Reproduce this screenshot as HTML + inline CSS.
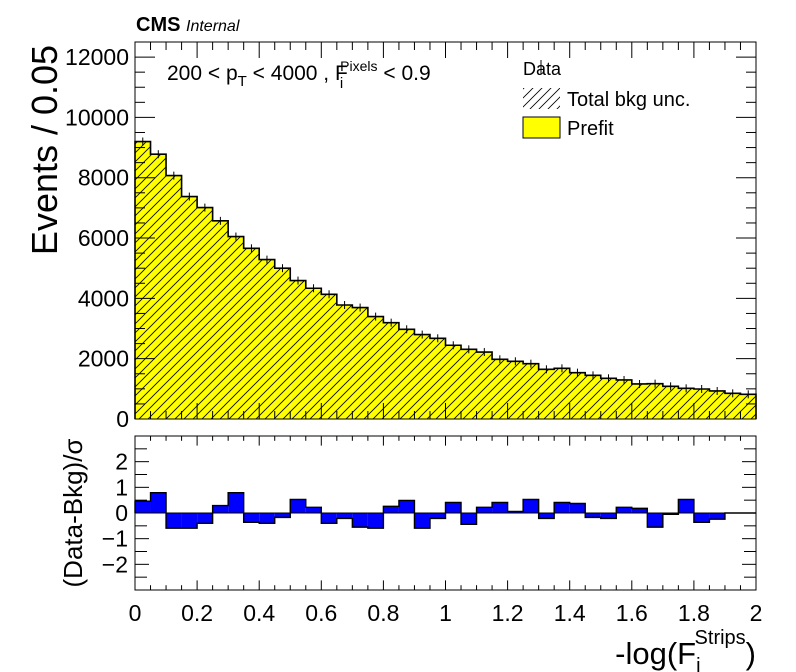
<!DOCTYPE html>
<html><head><meta charset="utf-8"><style>
body{margin:0;background:#fff;}
svg{display:block;font-family:"Liberation Sans",sans-serif;}
</style></head><body>
<svg id="c" width="796" height="672" viewBox="0 0 796 672">
<defs>
<pattern id="hatch" patternUnits="userSpaceOnUse" width="9" height="9">
<path d="M-1,10 L10,-1 M-1,1 L1,-1 M8,10 L10,8" stroke="#000" stroke-width="0.8"/>
</pattern>
</defs>
<g id="main"></g>
<g id="ratio"></g>
<text x="136" y="31" font-size="20" font-weight="bold">CMS <tspan font-size="16" font-weight="normal" font-style="italic">Internal</tspan></text>
<text x="167" y="80" font-size="21">200 &lt; p<tspan font-size="15" dy="6">T</tspan><tspan dy="-6"> &lt; 4000 , F</tspan><tspan font-size="15" dx="-8" dy="8">i</tspan><tspan font-size="14" dx="-3" dy="-17">Pixels</tspan><tspan dy="9"> &lt; 0.9</tspan></text>
<g>
<text x="523" y="75" font-size="18">Data</text>
<line x1="541" y1="60" x2="541" y2="74" stroke="#000" stroke-width="1"/>
<rect x="523" y="88" width="37" height="21" fill="url(#hatch)"/>
<text x="567" y="106" font-size="20">Total bkg unc.</text>
<rect x="523" y="117" width="37" height="21" fill="#ffff00" stroke="#000"/>
<text x="567" y="135" font-size="20">Prefit</text>
</g>
<text transform="translate(57,150) rotate(-90)" text-anchor="middle" font-size="36">Events / 0.05</text>
<text transform="translate(82,513) rotate(-90)" text-anchor="middle" font-size="26">(Data-Bkg)/σ</text>
<text x="756" y="664" text-anchor="end" font-size="31">-log(F<tspan font-size="20" dy="8">i</tspan><tspan font-size="20" dx="-6" dy="-28">Strips</tspan><tspan font-size="31" dy="20">)</tspan></text>
</svg>
<script>
const bkgValues=[9200,8780,8070,7375,7010,6570,6050,5660,5285,5000,4590,4335,4135,3780,3695,3395,3195,2975,2800,2676,2445,2310,2220,1980,1913,1835,1648,1681,1537,1448,1349,1294,1161,1172,1083,1017,995,929,851,818];
const pullValues=[0.46,0.79,-0.59,-0.59,-0.40,0.29,0.79,-0.36,-0.40,-0.17,0.53,0.22,-0.40,-0.21,-0.55,-0.59,0.26,0.49,-0.59,-0.21,0.41,-0.44,0.22,0.41,0.06,0.53,-0.21,0.41,0.37,-0.17,-0.21,0.22,0.18,-0.55,-0.05,0.53,-0.36,-0.24,0,0];
const xTicks=[0,0.2,0.4,0.6,0.8,1,1.2,1.4,1.6,1.8,2];
const yTicks=[0,2000,4000,6000,8000,10000,12000];
const rTicks=[-2,-1,0,1,2];
const NS="http://www.w3.org/2000/svg";
const L=135,R=756,T=42,B=419,RT=436,RB=590;
const xs=v=>L+(R-L)*v/2;
const ys=v=>B-(B-T)*v/12500;
const rs=v=>(RT+RB)/2-(RB-RT)*v/6;
function mk(p,tag,a){const e=document.createElementNS(NS,tag);for(const k in a)e.setAttribute(k,a[k]);p.appendChild(e);return e;}
const main=document.getElementById('main'),ratio=document.getElementById('ratio');
const w=2/bkgValues.length;
let d=`M${xs(0)},${ys(0)}`;
bkgValues.forEach((v,i)=>{
 const r=mk(main,'rect',{x:xs(i*w),y:ys(v),width:xs((i+1)*w)-xs(i*w),height:ys(0)-ys(v),fill:'#ffff00'});
 
 
 d+=` L${xs(i*w)},${ys(v)} L${xs((i+1)*w)},${ys(v)}`;
});
d+=` L${xs(2)},${ys(0)}`;
const hp=mk(main,'path',{d:d+' Z',fill:'url(#hatch)'});


const sp=mk(main,'path',{d:d,fill:'none',stroke:'#000','stroke-width':1.6});


bkgValues.forEach((v,i)=>{
 const c=xs((i+0.5)*w);
 const e=mk(main,'line',{x1:c,x2:c,y1:ys(v)-4,y2:ys(v)+4,stroke:'#000','stroke-width':1});
 
 
});
mk(main,'rect',{x:L,y:T,width:R-L,height:B-T,fill:'none',stroke:'#000','stroke-width':1});
for(let v=0;v<=2.0001;v+=0.05){const big=Math.abs(v*5-Math.round(v*5))<1e-6;const len=big?16:8;
 mk(main,'line',{x1:xs(v),x2:xs(v),y1:B,y2:B-len,stroke:'#000'});mk(main,'line',{x1:xs(v),x2:xs(v),y1:T,y2:T+len,stroke:'#000'});
 mk(ratio,'line',{x1:xs(v),x2:xs(v),y1:RB,y2:RB-len*0.6,stroke:'#000'});mk(ratio,'line',{x1:xs(v),x2:xs(v),y1:RT,y2:RT+len*0.6,stroke:'#000'});}
for(let v=0;v<=12500;v+=500){const big=v%2000===0;const len=big?20:10;
 mk(main,'line',{x1:L,x2:L+len,y1:ys(v),y2:ys(v),stroke:'#000'});mk(main,'line',{x1:R,x2:R-len,y1:ys(v),y2:ys(v),stroke:'#000'});}
yTicks.forEach(v=>{const t=mk(main,'text',{x:L-6,y:ys(v)+8,'text-anchor':'end','font-size':23});t.textContent=v;
 
 });
pullValues.forEach((v,i)=>{
 const y0=rs(0),y1=rs(v);
 const r=mk(ratio,'rect',{x:xs(i*w),y:Math.min(y0,y1),width:xs((i+1)*w)-xs(i*w),height:Math.abs(y1-y0),fill:'#0000ff'});
 
 
});
let rd=`M${xs(0)},${rs(0)}`;
pullValues.forEach((v,i)=>{rd+=` L${xs(i*w)},${rs(v)} L${xs((i+1)*w)},${rs(v)}`;});
rd+=` L${xs(2)},${rs(0)}`;
mk(ratio,'path',{d:rd,fill:'none',stroke:'#000','stroke-width':1.4});
mk(ratio,'line',{x1:L,x2:R,y1:rs(0),y2:rs(0),stroke:'#000'});
mk(ratio,'rect',{x:L,y:RT,width:R-L,height:RB-RT,fill:'none',stroke:'#000'});
for(let v=-3;v<=3;v+=0.5){const len=Number.isInteger(v)?14:12;
 mk(ratio,'line',{x1:L,x2:L+len,y1:rs(v),y2:rs(v),stroke:'#000'});mk(ratio,'line',{x1:R,x2:R-len,y1:rs(v),y2:rs(v),stroke:'#000'});}
rTicks.forEach(v=>{const t=mk(ratio,'text',{x:L-7,y:rs(v)+8,'text-anchor':'end','font-size':23});t.textContent=v<0?'−'+(-v):v;
 
 });
xTicks.forEach(v=>{const t=mk(ratio,'text',{x:xs(v),y:RB+31,'text-anchor':'middle','font-size':23});t.textContent=v;
 
 });
</script>
</body></html>
